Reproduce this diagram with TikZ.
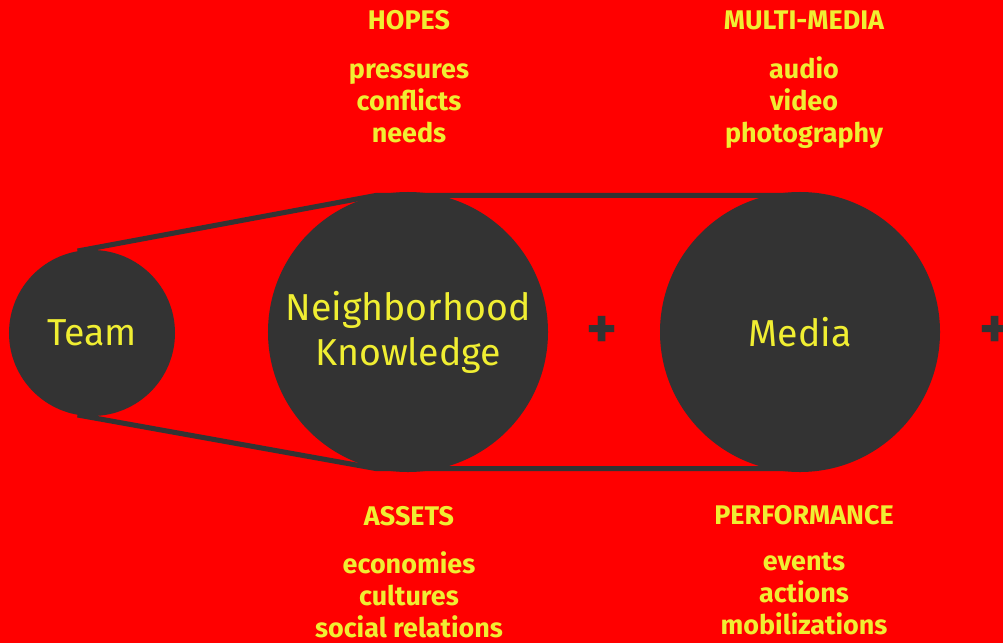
\documentclass[tikz,border=0pt]{standalone}
\usepackage{fontspec}
\setmainfont{Fira Sans}
\definecolor{bgred}{RGB}{255,0,0}
\definecolor{gear}{RGB}{51,51,51}
\definecolor{ink}{RGB}{240,238,50}

\begin{document}
\begin{tikzpicture}[x=0.03cm,y=-0.03cm,
  wheel/.style={circle,fill=gear,text=ink,inner sep=0pt,align=center,
    font=\fontsize{32}{38.4}\selectfont},
  head/.style={text=ink,font=\bfseries\fontsize{23}{27}\selectfont},
  items/.style={text=ink,align=center,font=\bfseries\fontsize{23}{27.3}\selectfont},
  plus/.style={text=gear,inner sep=0pt,font=\bfseries\fontsize{50}{50}\selectfont},
  belt/.style={draw=gear,line width=4.3pt}]
\useasboundingbox (0,0) rectangle (1003,643);
\fill[bgred] (0,0) rectangle (1003,643);

\node[wheel,minimum size=4.98cm] (team) at (92,333) {Team};
\node[wheel,minimum size=8.4cm] (nbh) at (408,332) {Neighborhood\\Knowledge};
\node[wheel,minimum size=8.4cm] (media) at (800,332) {Media};

\draw[belt] (team.100) -- (nbh.103) -- (media.north |- nbh.103);
\draw[belt] (team.260) -- (nbh.257) -- (media.south |- nbh.257);

\node[plus] (plusA) at (602,332) {+};
\node[plus] (plusB) at (995,332) {+};

\node[head] (hopes) at (409,20) {HOPES};
\node[items] (hopeslist) at (409,103) {pressures\\conflicts\\needs};
\node[head] (multi) at (804,20) {MULTI-MEDIA};
\node[items] (multilist) at (804,103) {audio\\video\\photography};

\node[head] (assets) at (409,516) {ASSETS};
\node[items] (assetslist) at (409,595) {economies\\cultures\\social relations};
\node[head] (perf) at (804,515) {PERFORMANCE};
\node[items] (perflist) at (804,594) {events\\actions\\mobilizations};
\end{tikzpicture}
\end{document}
